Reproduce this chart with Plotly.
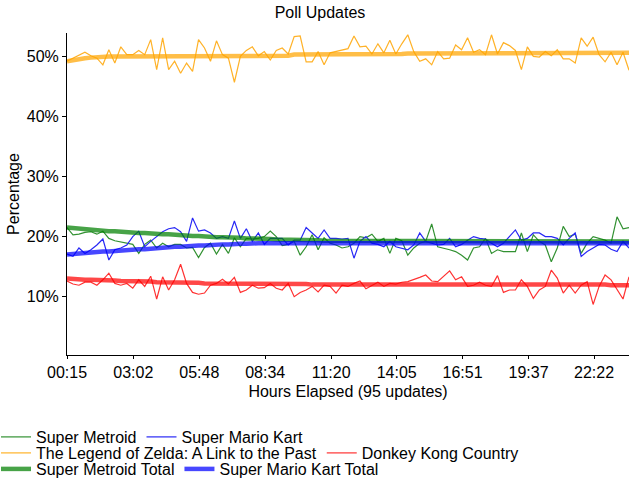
import plotly.graph_objects as go

# ---------------- data ----------------
tick_labels = ["00:15", "03:02", "05:48", "08:34", "11:20", "14:05", "16:51", "19:37", "22:22"]
first_minute = 15
last_minute = 1430
n_updates = 95

super_metroid = [21.5, 20.3, 20.4, 20.7, 20.8, 20.4, 20.9, 19.7, 19.3, 19.1,
                 18.9, 18.7, 17.2, 18.7, 19.4, 18.1, 18.9, 18.3, 18.7, 18.7,
                 18.1, 18.2, 16.5, 18.2, 18.9, 17.1, 18.7, 17.2, 19.8, 18.3,
                 19.7, 19.6, 19.7, 20.0, 20.9, 20.0, 18.5, 18.7, 19.2, 16.9,
                 18.3, 20.3, 17.8, 19.8, 18.9, 18.6, 18.1, 18.3, 18.9, 20.0,
                 19.8, 20.4, 19.2, 19.7, 17.2, 19.7, 19.3, 16.9, 18.1, 18.9,
                 19.2, 22.1, 18.3, 18.1, 17.8, 17.5, 16.9, 16.1, 18.1, 18.3,
                 19.7, 17.2, 17.8, 17.5, 17.5, 17.5, 20.6, 17.5, 20.3, 19.2,
                 18.6, 15.8, 18.1, 21.7, 20.0, 20.4, 17.2, 18.9, 20.0, 19.7,
                 19.4, 18.9, 23.3, 21.3, 21.5]

super_mario_kart = [17.1, 16.7, 18.1, 17.2, 17.8, 18.6, 19.6, 16.1, 17.8, 18.1,
                    18.6, 20.0, 20.9, 18.3, 19.2, 20.0, 20.8, 21.3, 21.5, 20.8,
                    19.2, 23.1, 20.9, 21.1, 20.6, 19.7, 20.0, 19.7, 22.6, 19.7,
                    21.3, 19.2, 20.6, 18.7, 19.7, 19.7, 19.7, 18.6, 19.4, 19.4,
                    21.5, 20.6, 19.7, 21.1, 19.7, 19.7, 19.6, 19.7, 16.4, 19.2,
                    20.0, 18.9, 18.7, 18.3, 19.2, 18.3, 18.1, 17.8, 18.6, 20.6,
                    19.2, 18.9, 18.6, 18.7, 19.7, 18.3, 18.7, 19.4, 20.0, 19.7,
                    19.6, 18.9, 18.3, 18.9, 20.0, 21.1, 19.4, 19.7, 20.6, 20.6,
                    20.0, 20.0, 19.7, 18.6, 19.7, 20.6, 16.7, 17.5, 18.1, 18.7,
                    18.6, 17.9, 17.5, 19.2, 18.1]

zelda = [49.2, 49.7, 50.3, 50.7, 50.1, 49.7, 48.6, 51.1, 48.9, 51.6,
         50.3, 50.3, 51.0, 50.3, 52.8, 47.8, 53.1, 47.8, 49.2, 47.2,
         48.9, 47.5, 52.8, 51.4, 49.2, 52.6, 50.3, 49.7, 45.7, 50.0,
         51.0, 51.6, 50.1, 50.8, 49.4, 51.0, 51.4, 50.4, 53.3, 53.4,
         49.1, 49.1, 50.8, 48.6, 50.6, 50.8, 51.1, 51.3, 53.4, 51.6,
         51.7, 50.4, 52.1, 50.6, 52.7, 50.4, 52.1, 53.6, 50.8, 49.2,
         49.6, 48.6, 50.8, 49.6, 49.7, 51.9, 51.1, 53.1, 50.7, 51.1,
         50.3, 53.6, 50.4, 52.3, 51.8, 51.0, 47.8, 51.6, 50.0, 49.9,
         50.8, 50.1, 51.1, 49.6, 49.6, 48.9, 53.1, 51.7, 53.2, 50.3,
         49.1, 50.7, 48.6, 50.7, 47.7]

donkey_kong = [12.6, 12.1, 11.9, 12.4, 12.4, 11.9, 12.8, 13.9, 12.2, 11.9,
               12.2, 11.4, 12.8, 11.7, 13.4, 9.6, 13.3, 11.1, 12.8, 15.4,
               12.2, 10.7, 10.4, 10.6, 11.9, 12.2, 12.9, 12.1, 13.2, 10.7,
               11.1, 11.9, 11.4, 11.5, 12.2, 11.4, 11.1, 12.2, 10.0, 10.7,
               11.1, 11.7, 10.8, 11.9, 11.7, 10.6, 11.9, 11.7, 12.2, 12.6,
               11.3, 11.9, 12.4, 11.7, 12.2, 12.1, 12.4, 12.5, 12.8, 13.2,
               13.6, 12.6, 12.5, 13.4, 14.3, 12.8, 13.3, 11.7, 11.9, 12.4,
               11.9, 11.7, 13.5, 10.7, 11.1, 11.1, 12.8, 11.7, 9.7, 11.1,
               11.7, 14.4, 13.1, 10.6, 11.9, 10.6, 11.9, 12.5, 8.7, 11.7,
               13.6, 12.8, 11.1, 9.6, 13.3]

super_metroid_total = [21.5, 21.4, 21.3, 21.2, 21.1, 21.1, 21.0, 20.9, 20.9, 20.8,
                       20.7, 20.7, 20.6, 20.6, 20.5, 20.5, 20.4, 20.4, 20.3, 20.3,
                       20.2, 20.1, 20.1, 20.0, 20.0, 19.9, 19.9, 19.9, 19.8, 19.8,
                       19.7, 19.7, 19.6, 19.6, 19.6, 19.5, 19.5, 19.5, 19.4, 19.4,
                       19.4, 19.4, 19.4, 19.3, 19.3, 19.3, 19.3, 19.3, 19.3, 19.3,
                       19.3, 19.3, 19.3, 19.3, 19.3, 19.3, 19.2, 19.2, 19.2, 19.2,
                       19.2, 19.2, 19.2, 19.2, 19.2, 19.2, 19.2, 19.2, 19.2, 19.2,
                       19.2, 19.2, 19.2, 19.2, 19.2, 19.2, 19.2, 19.2, 19.2, 19.2,
                       19.2, 19.2, 19.2, 19.2, 19.2, 19.2, 19.2, 19.2, 19.2, 19.2,
                       19.2, 19.2, 19.2, 19.2, 19.2]

super_mario_kart_total = [17.0, 17.1, 17.2, 17.3, 17.4, 17.4, 17.5, 17.5, 17.6, 17.7,
                          17.8, 17.8, 17.9, 17.9, 18.0, 18.1, 18.2, 18.2, 18.3, 18.3,
                          18.4, 18.4, 18.5, 18.5, 18.6, 18.6, 18.7, 18.7, 18.8, 18.8,
                          18.8, 18.9, 18.9, 18.9, 18.9, 19.0, 19.0, 19.0, 19.0, 19.0,
                          19.0, 19.0, 19.0, 19.0, 19.0, 19.0, 19.0, 19.0, 19.0, 19.0,
                          19.0, 19.0, 19.0, 19.0, 19.0, 19.0, 19.0, 19.0, 19.0, 19.0,
                          19.0, 19.0, 19.0, 19.0, 19.0, 19.0, 19.0, 19.0, 19.0, 19.0,
                          19.0, 19.0, 19.0, 19.0, 19.0, 19.0, 19.0, 19.0, 19.0, 19.0,
                          19.0, 19.0, 19.0, 19.0, 19.0, 19.0, 19.0, 19.0, 19.0, 19.0,
                          18.9, 18.9, 18.9, 18.9, 18.9]

zelda_total = [49.2, 49.4, 49.6, 49.7, 49.8, 49.9, 49.9, 50.0, 50.0, 50.0,
               50.0, 50.0, 50.0, 50.0, 50.1, 50.1, 50.1, 50.1, 50.0, 50.0,
               50.0, 50.0, 50.0, 50.0, 50.0, 50.0, 50.0, 50.0, 50.0, 50.0,
               50.0, 50.0, 50.0, 50.0, 50.0, 50.0, 50.1, 50.1, 50.3, 50.3,
               50.3, 50.3, 50.3, 50.3, 50.3, 50.3, 50.3, 50.4, 50.4, 50.4,
               50.4, 50.4, 50.4, 50.4, 50.4, 50.4, 50.4, 50.5, 50.5, 50.5,
               50.5, 50.5, 50.5, 50.5, 50.5, 50.5, 50.5, 50.6, 50.6, 50.6,
               50.6, 50.6, 50.6, 50.6, 50.6, 50.6, 50.6, 50.6, 50.6, 50.6,
               50.6, 50.6, 50.6, 50.6, 50.6, 50.6, 50.6, 50.6, 50.6, 50.6,
               50.6, 50.6, 50.6, 50.6, 50.6]

donkey_kong_total = [13.0, 12.9, 12.9, 12.8, 12.8, 12.8, 12.7, 12.7, 12.7, 12.6,
                     12.6, 12.6, 12.5, 12.5, 12.5, 12.4, 12.4, 12.4, 12.4, 12.3,
                     12.3, 12.3, 12.3, 12.2, 12.2, 12.2, 12.2, 12.2, 12.2, 12.2,
                     12.2, 12.2, 12.2, 12.2, 12.2, 12.2, 12.1, 12.1, 12.1, 12.1,
                     12.1, 12.0, 12.0, 12.0, 12.0, 12.0, 12.0, 12.0, 12.0, 12.0,
                     12.0, 12.0, 12.0, 12.0, 12.0, 12.0, 12.0, 12.0, 12.0, 12.0,
                     12.0, 12.0, 12.0, 12.1, 12.1, 12.1, 12.1, 12.1, 12.1, 12.1,
                     12.1, 12.0, 12.0, 12.0, 12.0, 12.0, 12.0, 12.0, 12.0, 12.0,
                     12.0, 12.0, 12.0, 12.0, 12.0, 12.0, 12.0, 12.0, 12.0, 12.0,
                     12.0, 11.9, 11.9, 11.9, 11.9]

# ---------------- helpers ----------------
step = (last_minute - first_minute) / (n_updates - 1)
minutes = [first_minute + k * step for k in range(n_updates)]


def to_minutes(label):
    h, m = label.split(":")
    return int(h) * 60 + int(m)


tick_vals = [to_minutes(t) for t in tick_labels]

FONT = "Liberation Sans, Arial, sans-serif"
FS = 16

# (name, values, colour, width, legend row or None when the entry falls below the page)
series = [
    ("Super Metroid", super_metroid, "rgb(50,145,50)", 1.2, "legend"),
    ("Super Mario Kart", super_mario_kart, "rgb(40,40,245)", 1.2, "legend"),
    ("The Legend of Zelda: A Link to the Past", zelda, "rgb(255,178,40)", 1.2, "legend2"),
    ("Donkey Kong Country", donkey_kong, "rgb(255,50,50)", 1.2, "legend2"),
    ("Super Metroid Total", super_metroid_total, "rgba(0,128,0,0.72)", 4.5, "legend3"),
    ("Super Mario Kart Total", super_mario_kart_total, "rgba(0,0,255,0.72)", 4.5, "legend3"),
    ("The Legend of Zelda: A Link to the Past Total", zelda_total, "rgba(255,165,0,0.72)", 4.5, None),
    ("Donkey Kong Country Total", donkey_kong_total, "rgba(255,0,0,0.72)", 4.5, None),
]

fig = go.Figure()
for name, vals, color, width, leg in series:
    fig.add_trace(go.Scatter(x=minutes, y=vals, mode="lines", name=name,
                             line=dict(color=color, width=width),
                             legend=leg if leg else "legend",
                             showlegend=leg is not None, hoverinfo="skip"))

PLOT_L, PLOT_R, PLOT_T, PLOT_B = 67, 11, 33, 125
plot_h = 480 - PLOT_T - PLOT_B
plot_w = 640 - PLOT_L - PLOT_R


def legend_at(center_px):
    return dict(orientation="h", x=-(PLOT_L + 4) / plot_w, xanchor="left",
                y=-(center_px - (480 - PLOT_B)) / plot_h, yanchor="middle",
                bgcolor="rgba(0,0,0,0)", itemwidth=30,
                font=dict(family=FONT, size=FS, color="black"),
                traceorder="normal")


fig.update_layout(
    width=640, height=480,
    margin=dict(l=PLOT_L, r=PLOT_R, t=PLOT_T, b=PLOT_B, autoexpand=False),
    paper_bgcolor="white", plot_bgcolor="white",
    font=dict(family=FONT, size=FS, color="black"),
    title=dict(text="Poll Updates", x=0.5, xref="container", xanchor="center",
               y=1 - 12 / 480, yref="container", yanchor="middle",
               font=dict(family=FONT, size=FS, color="black")),
    showlegend=True,
    legend=legend_at(437),
    legend2=legend_at(453),
    legend3=legend_at(469),
    xaxis=dict(range=[first_minute, last_minute], tickvals=tick_vals, ticktext=tick_labels,
               showgrid=False, zeroline=False, showline=True, linecolor="black", linewidth=1,
               ticks="outside", ticklen=3, tickcolor="black",
               tickfont=dict(family=FONT, size=FS, color="black"),
               title=dict(text="Hours Elapsed (95 updates)", standoff=5,
                          font=dict(family=FONT, size=FS, color="black"))),
    yaxis=dict(range=[0.28, 53.9], tickvals=[10, 20, 30, 40, 50],
               ticktext=["10%", "20%", "30%", "40%", "50%"],
               showgrid=False, zeroline=False, showline=True, linecolor="black", linewidth=1,
               ticks="outside", ticklen=4, tickcolor="black",
               tickfont=dict(family=FONT, size=FS, color="black"),
               title=dict(text="Percentage", standoff=3,
                          font=dict(family=FONT, size=FS, color="black"))),
)

fig.write_html("out.html")
